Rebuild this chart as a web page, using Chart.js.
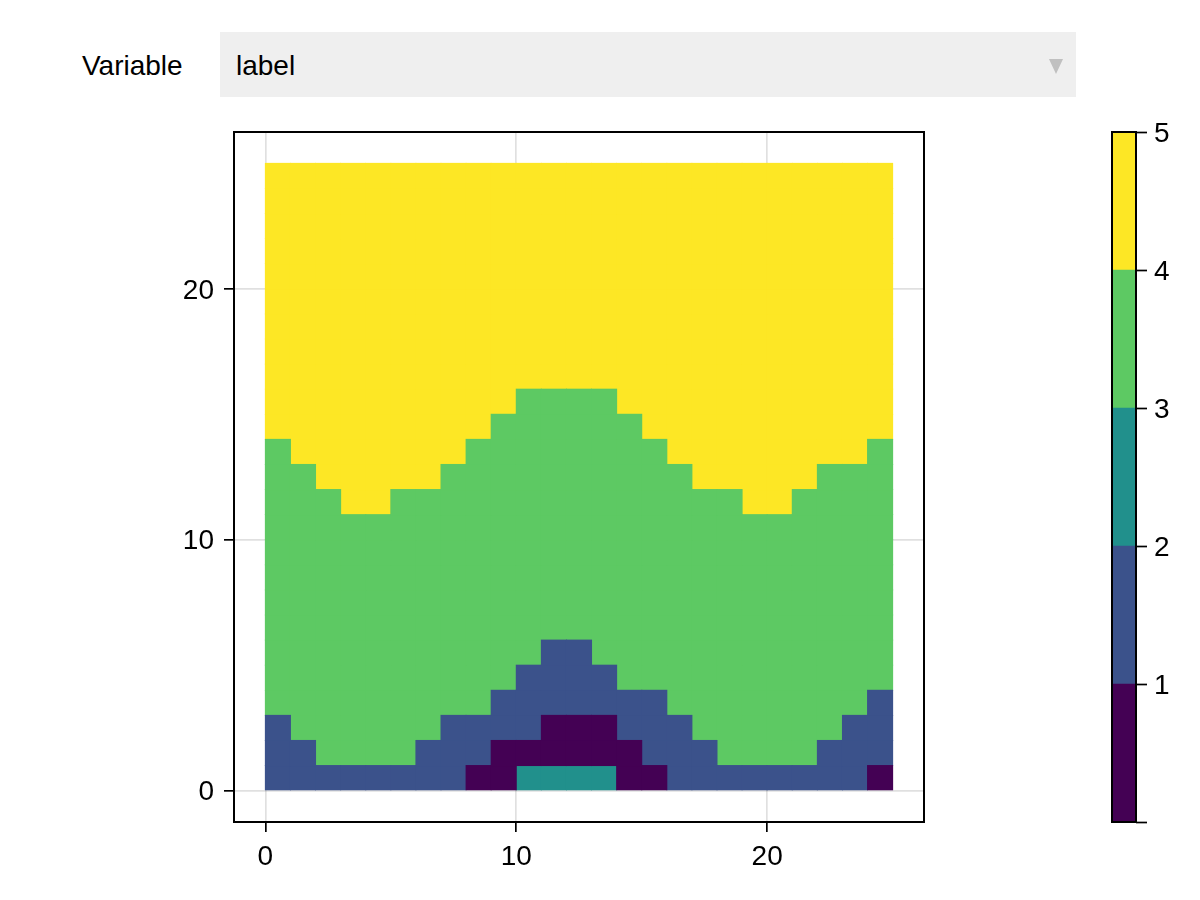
<!DOCTYPE html>
<html>
<head>
<meta charset="utf-8">
<title>label</title>
<script src="https://cdn.jsdelivr.net/npm/chart.js@4/dist/chart.umd.js"></script>
<style>
    html, body { margin: 0; padding: 0; background: #fff; }
    body { width: 1200px; height: 900px; position: relative; overflow: hidden; font-family: "Liberation Sans", sans-serif; color: #000; }
    canvas { position: absolute; top: 0; }
    #heatmap { left: 0; }
    #colorbar { left: 1000px; }
    #menu-label { position: absolute; left: 82px; top: 33px; line-height: 65px; font-size: 28px; }
    #menu { position: absolute; left: 220px; top: 32px; width: 856px; height: 65px; background: #efefef; }
    #menu-value { position: absolute; left: 16px; top: 1px; line-height: 65px; font-size: 28px; }
    #menu-arrow { position: absolute; left: 829px; top: 27px; width: 0; height: 0; border-left: 7.5px solid transparent; border-right: 7.5px solid transparent; border-top: 15px solid #c0c0c0; }
</style>
</head>
<body>
<div id="menu-label">Variable</div>
<div id="menu"><span id="menu-value">label</span><div id="menu-arrow"></div></div>
<canvas id="heatmap" width="1000" height="900"></canvas>
<canvas id="colorbar" width="200" height="900"></canvas>
<script>
// one row per y cell, bottom row first, one value per x cell
const labelRow0 = [2, 2, 2, 2, 2, 2, 2, 2, 1, 1, 3, 3, 3, 3, 1, 1, 2, 2, 2, 2, 2, 2, 2, 2, 1];
const labelRow1 = [2, 2, 4, 4, 4, 4, 2, 2, 2, 1, 1, 1, 1, 1, 1, 2, 2, 2, 4, 4, 4, 4, 2, 2, 2];
const labelRow2 = [2, 4, 4, 4, 4, 4, 4, 2, 2, 2, 2, 1, 1, 1, 2, 2, 2, 4, 4, 4, 4, 4, 4, 2, 2];
const labelRow3 = [4, 4, 4, 4, 4, 4, 4, 4, 4, 2, 2, 2, 2, 2, 2, 2, 4, 4, 4, 4, 4, 4, 4, 4, 2];
const labelRow4 = [4, 4, 4, 4, 4, 4, 4, 4, 4, 4, 2, 2, 2, 2, 4, 4, 4, 4, 4, 4, 4, 4, 4, 4, 4];
const labelRow5 = [4, 4, 4, 4, 4, 4, 4, 4, 4, 4, 4, 2, 2, 4, 4, 4, 4, 4, 4, 4, 4, 4, 4, 4, 4];
const labelRow6 = [4, 4, 4, 4, 4, 4, 4, 4, 4, 4, 4, 4, 4, 4, 4, 4, 4, 4, 4, 4, 4, 4, 4, 4, 4];
const labelRow7 = [4, 4, 4, 4, 4, 4, 4, 4, 4, 4, 4, 4, 4, 4, 4, 4, 4, 4, 4, 4, 4, 4, 4, 4, 4];
const labelRow8 = [4, 4, 4, 4, 4, 4, 4, 4, 4, 4, 4, 4, 4, 4, 4, 4, 4, 4, 4, 4, 4, 4, 4, 4, 4];
const labelRow9 = [4, 4, 4, 4, 4, 4, 4, 4, 4, 4, 4, 4, 4, 4, 4, 4, 4, 4, 4, 4, 4, 4, 4, 4, 4];
const labelRow10 = [4, 4, 4, 4, 4, 4, 4, 4, 4, 4, 4, 4, 4, 4, 4, 4, 4, 4, 4, 4, 4, 4, 4, 4, 4];
const labelRow11 = [4, 4, 4, 5, 5, 4, 4, 4, 4, 4, 4, 4, 4, 4, 4, 4, 4, 4, 4, 5, 5, 4, 4, 4, 4];
const labelRow12 = [4, 4, 5, 5, 5, 5, 5, 4, 4, 4, 4, 4, 4, 4, 4, 4, 4, 5, 5, 5, 5, 5, 4, 4, 4];
const labelRow13 = [4, 5, 5, 5, 5, 5, 5, 5, 4, 4, 4, 4, 4, 4, 4, 4, 5, 5, 5, 5, 5, 5, 5, 5, 4];
const labelRow14 = [5, 5, 5, 5, 5, 5, 5, 5, 5, 4, 4, 4, 4, 4, 4, 5, 5, 5, 5, 5, 5, 5, 5, 5, 5];
const labelRow15 = [5, 5, 5, 5, 5, 5, 5, 5, 5, 5, 4, 4, 4, 4, 5, 5, 5, 5, 5, 5, 5, 5, 5, 5, 5];
const labelRow16 = [5, 5, 5, 5, 5, 5, 5, 5, 5, 5, 5, 5, 5, 5, 5, 5, 5, 5, 5, 5, 5, 5, 5, 5, 5];
const labelRow17 = [5, 5, 5, 5, 5, 5, 5, 5, 5, 5, 5, 5, 5, 5, 5, 5, 5, 5, 5, 5, 5, 5, 5, 5, 5];
const labelRow18 = [5, 5, 5, 5, 5, 5, 5, 5, 5, 5, 5, 5, 5, 5, 5, 5, 5, 5, 5, 5, 5, 5, 5, 5, 5];
const labelRow19 = [5, 5, 5, 5, 5, 5, 5, 5, 5, 5, 5, 5, 5, 5, 5, 5, 5, 5, 5, 5, 5, 5, 5, 5, 5];
const labelRow20 = [5, 5, 5, 5, 5, 5, 5, 5, 5, 5, 5, 5, 5, 5, 5, 5, 5, 5, 5, 5, 5, 5, 5, 5, 5];
const labelRow21 = [5, 5, 5, 5, 5, 5, 5, 5, 5, 5, 5, 5, 5, 5, 5, 5, 5, 5, 5, 5, 5, 5, 5, 5, 5];
const labelRow22 = [5, 5, 5, 5, 5, 5, 5, 5, 5, 5, 5, 5, 5, 5, 5, 5, 5, 5, 5, 5, 5, 5, 5, 5, 5];
const labelRow23 = [5, 5, 5, 5, 5, 5, 5, 5, 5, 5, 5, 5, 5, 5, 5, 5, 5, 5, 5, 5, 5, 5, 5, 5, 5];
const labelRow24 = [5, 5, 5, 5, 5, 5, 5, 5, 5, 5, 5, 5, 5, 5, 5, 5, 5, 5, 5, 5, 5, 5, 5, 5, 5];

const labelBands = [1, 2, 3, 4, 5];
const bandColors = ['#440154', '#3b528b', '#21908c', '#5dc963', '#fde725'];
const axisTicks = [0, 10, 20];
const colorbarTicks = [0, 1, 2, 3, 4, 5];

const labelRows = [
    labelRow0, labelRow1, labelRow2, labelRow3, labelRow4,
    labelRow5, labelRow6, labelRow7, labelRow8, labelRow9,
    labelRow10, labelRow11, labelRow12, labelRow13, labelRow14,
    labelRow15, labelRow16, labelRow17, labelRow18, labelRow19,
    labelRow20, labelRow21, labelRow22, labelRow23, labelRow24,
];

const tickFont = { family: '"Liberation Sans", sans-serif', size: 28 };

const frameBorder = {
    id: 'frameBorder',
    beforeDraw(chart) {
        // vertical tick labels sit a little high with textBaseline middle
        chart.scales.y.getLabelItems().forEach((item) => {
            item.textOffset += 2;
        });
    },
    afterDraw(chart) {
        const { ctx, chartArea } = chart;
        ctx.save();
        ctx.strokeStyle = '#000';
        ctx.lineWidth = 2;
        ctx.strokeRect(chartArea.left, chartArea.top, chartArea.width, chartArea.height);
        ctx.restore();
    },
};

// floating bars, one per cell, grouped by colour band
const heatmapDatasets = labelBands.map((band, i) => {
    const cells = [];
    labelRows.forEach((row, y) => {
        row.forEach((value, x) => {
            if (value === band) {
                cells.push({ x: x + 0.5, y: [y, y + 1] });
            }
        });
    });
    return {
        label: String(band),
        data: cells,
        backgroundColor: bandColors[i],
        borderWidth: 0,
        inflateAmount: 0.5,
        grouped: false,
        barPercentage: 1,
        categoryPercentage: 1,
    };
});

function heatmapAxis(extra) {
    return {
        type: 'linear',
        min: -1.25,
        max: 26.25,
        offset: false,
        afterBuildTicks(scale) {
            scale.ticks = axisTicks.map((value) => ({ value }));
        },
        grid: {
            offset: false,
            color: 'rgba(0, 0, 0, 0.12)',
            lineWidth: 1.7,
            tickColor: '#000',
            tickWidth: 1.7,
            tickLength: 10,
        },
        border: { display: false },
        ticks: { color: '#000', font: tickFont, maxRotation: 0, autoSkip: false, padding: 8 },
        ...extra,
    };
}

const xAxis = heatmapAxis({ afterFit(scale) { scale.height = 78; } });
const yAxis = heatmapAxis({ afterFit(scale) { scale.width = 234; } });
yAxis.ticks.padding = 10;

new Chart(document.getElementById('heatmap'), {
    type: 'bar',
    data: { datasets: heatmapDatasets },
    options: {
        responsive: false,
        animation: false,
        devicePixelRatio: 1,
        layout: { padding: { left: 0, top: 132, right: 76, bottom: 0 } },
        plugins: { legend: { display: false }, tooltip: { enabled: false } },
        scales: { x: xAxis, y: yAxis },
    },
    plugins: [frameBorder],
});

new Chart(document.getElementById('colorbar'), {
    type: 'bar',
    data: {
        labels: ['label'],
        datasets: labelBands.map((band, i) => ({
            label: String(band),
            data: [1],
            backgroundColor: bandColors[i],
            borderWidth: 0,
            barPercentage: 1,
            categoryPercentage: 1,
        })),
    },
    options: {
        responsive: false,
        animation: false,
        devicePixelRatio: 1,
        layout: { padding: { left: 112, top: 132, right: 0, bottom: 78 } },
        plugins: { legend: { display: false }, tooltip: { enabled: false } },
        scales: {
            x: { stacked: true, display: false },
            y: {
                stacked: true,
                position: 'right',
                min: 0,
                max: 5,
                afterBuildTicks(scale) {
                    scale.ticks = colorbarTicks.map((value) => ({ value }));
                },
                afterFit(scale) { scale.width = 64; },
                grid: { drawOnChartArea: false, tickColor: '#000', tickWidth: 1.7, tickLength: 11 },
                border: { display: false },
                ticks: {
                    color: '#000',
                    font: tickFont,
                    padding: 7,
                    callback: (value) => (value === 0 ? '' : String(value)),
                },
            },
        },
    },
    plugins: [frameBorder],
});
</script>
</body>
</html>
